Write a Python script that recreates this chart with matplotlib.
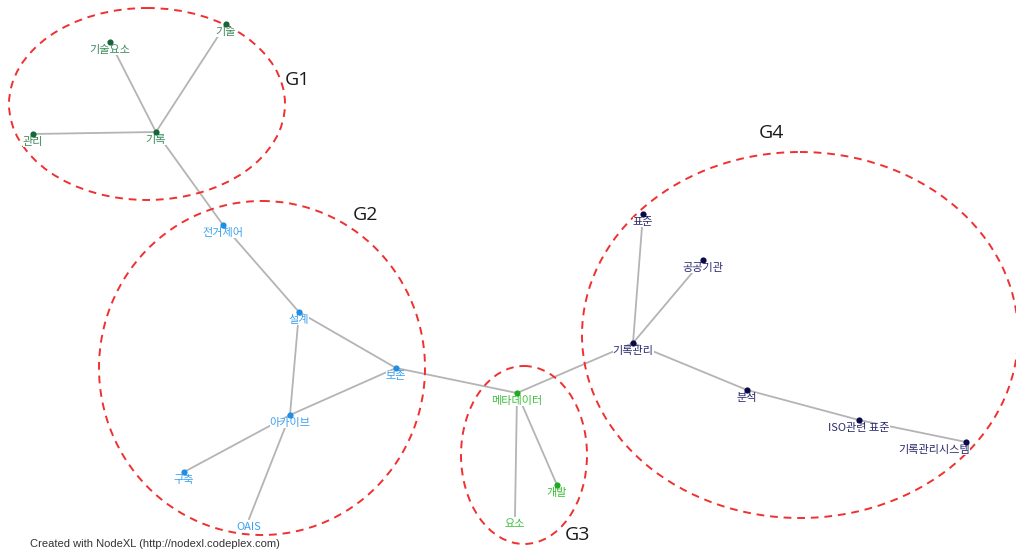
import matplotlib.pyplot as plt
from matplotlib.patches import Ellipse

plt.rcParams['font.family'] = ['Noto Sans CJK KR', 'DejaVu Sans']

# node layout (pixel coordinates of the NodeXL drawing)
node_names = ["기술", "기술요소", "관리", "기록",
              "전거제어", "설계", "보존", "아카이브", "구축", "OAIS",
              "메타데이터", "개발", "요소",
              "표준", "공공기관", "기록관리", "분석", "ISO관련 표준", "기록관리시스템"]
node_x = [226, 110, 33, 156,
          223, 299, 396, 290, 184, 249,
          517, 557, 515,
          643, 703, 633, 747, 859, 966]
node_y = [24, 42, 134, 132,
          225, 312, 368, 415, 472, 519,
          393, 485, 516,
          214, 260, 343, 390, 420, 442]
node_group = [1, 1, 1, 1,
              2, 2, 2, 2, 2, 2,
              3, 3, 3,
              4, 4, 4, 4, 4, 4]

edges = [("기록", "기술요소"), ("기록", "기술"), ("기록", "관리"), ("기록", "전거제어"),
         ("전거제어", "설계"), ("설계", "보존"), ("설계", "아카이브"), ("아카이브", "보존"),
         ("아카이브", "구축"), ("아카이브", "OAIS"), ("보존", "메타데이터"),
         ("메타데이터", "기록관리"), ("메타데이터", "요소"), ("메타데이터", "개발"),
         ("기록관리", "표준"), ("기록관리", "공공기관"), ("기록관리", "분석"),
         ("분석", "ISO관련 표준"), ("ISO관련 표준", "기록관리시스템")]

# cluster outlines: label, centre, width, height, label position
group_names = ["G1", "G2", "G3", "G4"]
group_cx = [147, 262, 524, 800]
group_cy = [104, 368, 455, 335]
group_w = [276, 326, 126, 436]
group_h = [192, 334, 178, 366]
group_lx = [297, 366, 577, 771]
group_ly = [80, 215, 535, 133]

node_colors = {1: "#17663a", 2: "#1e8ee6", 3: "#1faa1f", 4: "#0b0b4a"}
label_colors = {1: "#3a8a5c", 2: "#3aa0f0", 3: "#3cbf3c", 4: "#2a2a6e"}

fig = plt.figure(figsize=(10.16, 5.53), dpi=100)
ax = fig.add_axes([0, 0, 1, 1])
ax.set_xlim(0, 1016)
ax.set_ylim(553, 0)
ax.axis("off")

pos = {n: (x, y) for n, x, y in zip(node_names, node_x, node_y)}
for a, b in edges:
    ax.plot([pos[a][0], pos[b][0]], [pos[a][1], pos[b][1]],
            color="#b4b4b4", lw=1.3, zorder=1)

for n, x, y, g in zip(node_names, node_x, node_y, node_group):
    if n != "OAIS" and n != "요소":
        ax.scatter(x, y, s=20, color=node_colors[g], zorder=5, linewidths=0)
    # the last label is kept inside the drawing area, like NodeXL does
    ha = "right" if n == "기록관리시스템" else "center"
    lx = x + 4 if ha == "right" else x
    ax.text(lx, y + 3, n, color=label_colors[g], fontsize=8,
            ha=ha, va="top", zorder=4,
            bbox=dict(boxstyle="square,pad=0", fc="white", ec="none"))

for name, cx, cy, w, h, lx, ly in zip(group_names, group_cx, group_cy, group_w,
                                      group_h, group_lx, group_ly):
    ax.add_patch(Ellipse((cx, cy), w, h, fill=False, edgecolor="#f03030",
                         lw=1.4, ls=(0, (4, 3)), zorder=2))
    ax.text(lx, ly, name, fontsize=14, color="#1a1a1a", ha="center",
            va="center", family=["Open Sans", "DejaVu Sans"])

ax.text(30, 544, "Created with NodeXL (http://nodexl.codeplex.com)",
        fontsize=8, color="#333333", ha="left", va="center",
        family=["Liberation Sans", "DejaVu Sans"])

fig.savefig("out.png", dpi=100)
